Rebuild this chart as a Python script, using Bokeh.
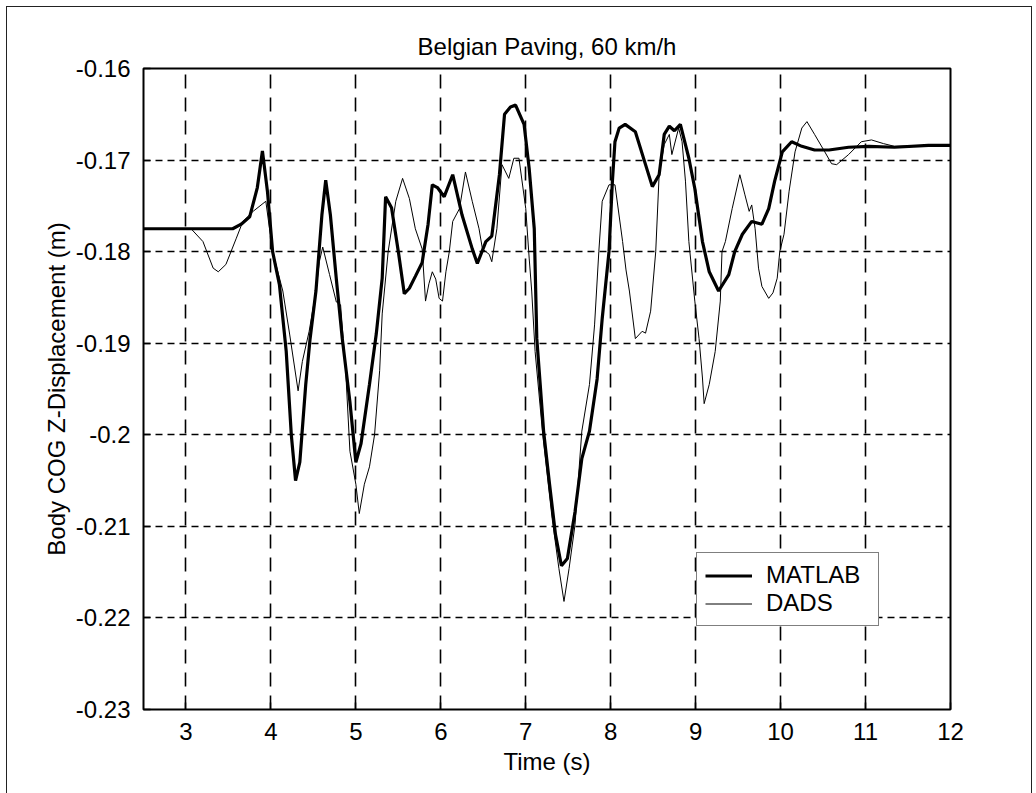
from bokeh.plotting import figure
from bokeh.models import FixedTicker, Legend, LegendItem, Range1d
from bokeh.embed import file_html
from bokeh.resources import INLINE

# Body centre-of-gravity vertical displacement, Belgian paving at 60 km/h
matlab_t = [2.5, 3.55, 3.65, 3.75, 3.84, 3.90, 3.96, 4.02, 4.10, 4.18, 4.24, 4.29, 4.34, 4.41,
            4.46, 4.53, 4.60, 4.645, 4.70, 4.77, 4.84, 4.93, 5.00, 5.06, 5.16, 5.24, 5.31, 5.35,
            5.42, 5.50, 5.57, 5.63, 5.70, 5.78, 5.85, 5.90, 5.96, 6.04, 6.14, 6.25, 6.37, 6.43,
            6.53, 6.60, 6.69, 6.75, 6.82, 6.88, 6.98, 7.04, 7.10, 7.13, 7.17, 7.21, 7.28, 7.35,
            7.42, 7.49, 7.58, 7.66, 7.75, 7.84, 7.90, 7.98, 8.02, 8.05, 8.10, 8.17, 8.29, 8.41,
            8.49, 8.57, 8.63, 8.69, 8.75, 8.82, 8.92, 8.99, 9.08, 9.16, 9.27, 9.39, 9.46, 9.55,
            9.66, 9.78, 9.86, 9.93, 10.02, 10.13, 10.25, 10.40, 10.57, 10.80, 11.04, 11.34,
            11.74, 12.0]
matlab_z = [-0.1775, -0.1775, -0.1770, -0.1762, -0.1730, -0.1690, -0.1735, -0.1800, -0.1836,
            -0.1909, -0.2000, -0.2050, -0.2030, -0.1945, -0.1896, -0.1843, -0.1760, -0.1722,
            -0.1760, -0.1830, -0.1895, -0.1964, -0.2030, -0.2010, -0.1945, -0.1890, -0.1829,
            -0.1740, -0.1752, -0.1800, -0.1846, -0.1840, -0.1827, -0.1812, -0.1770, -0.1727,
            -0.1730, -0.1740, -0.1716, -0.1760, -0.1797, -0.1813, -0.1789, -0.1783, -0.1716,
            -0.1650, -0.1642, -0.1640, -0.1661, -0.1709, -0.1775, -0.1895, -0.1945, -0.1996,
            -0.2054, -0.2109, -0.2143, -0.2135, -0.2084, -0.2026, -0.1996, -0.1939, -0.1873,
            -0.1800, -0.1723, -0.1680, -0.1665, -0.1661, -0.1669, -0.1705, -0.1729, -0.1716,
            -0.1672, -0.1663, -0.1668, -0.1661, -0.1698, -0.1731, -0.1789, -0.1822, -0.1843,
            -0.1825, -0.1800, -0.1781, -0.1767, -0.1770, -0.1753, -0.1723, -0.1691, -0.1680,
            -0.1685, -0.1689, -0.1689, -0.1686, -0.1685, -0.1686, -0.1684, -0.1684]

dads_t = [2.5, 3.06, 3.20, 3.32, 3.38, 3.47, 3.59, 3.67, 3.79, 3.94, 4.02, 4.14, 4.22, 4.32,
          4.37, 4.45, 4.53, 4.57, 4.61, 4.69, 4.77, 4.82, 4.88, 4.93, 5.00, 5.04, 5.10, 5.16,
          5.22, 5.28, 5.31, 5.38, 5.47, 5.55, 5.63, 5.70, 5.78, 5.82, 5.86, 5.90, 5.94, 5.98,
          6.02, 6.06, 6.10, 6.14, 6.22, 6.29, 6.37, 6.45, 6.49, 6.57, 6.60, 6.66, 6.72, 6.80,
          6.86, 6.92, 7.00, 7.04, 7.07, 7.11, 7.20, 7.31, 7.39, 7.45, 7.51, 7.58, 7.66, 7.75,
          7.81, 7.86, 7.90, 7.98, 8.05, 8.14, 8.18, 8.22, 8.29, 8.37, 8.41, 8.47, 8.53, 8.57,
          8.63, 8.69, 8.72, 8.80, 8.84, 8.88, 8.92, 8.99, 9.04, 9.08, 9.10, 9.16, 9.23, 9.29,
          9.31, 9.35, 9.43, 9.52, 9.58, 9.63, 9.66, 9.70, 9.74, 9.78, 9.86, 9.91, 9.96, 9.99,
          10.04, 10.10, 10.17, 10.25, 10.31, 10.40, 10.52, 10.60, 10.66, 10.80, 10.95, 11.07,
          11.21, 11.34, 11.74, 12.0]
dads_z = [-0.1775, -0.1775, -0.1789, -0.1818, -0.1822, -0.1814, -0.1786, -0.1767, -0.1756,
          -0.1745, -0.1800, -0.1843, -0.1890, -0.1952, -0.1920, -0.1887, -0.1843, -0.1811,
          -0.1795, -0.1825, -0.1855, -0.1858, -0.1930, -0.2018, -0.2054, -0.2086, -0.2054,
          -0.2035, -0.2000, -0.1930, -0.1868, -0.1800, -0.1745, -0.1720, -0.1742, -0.1775,
          -0.1797, -0.1854, -0.1835, -0.1822, -0.1830, -0.1851, -0.1854, -0.1822, -0.1800,
          -0.1767, -0.1753, -0.1713, -0.1745, -0.1775, -0.1797, -0.1803, -0.1811, -0.1775,
          -0.1705, -0.1720, -0.1698, -0.1698, -0.1753, -0.1807, -0.1843, -0.1909, -0.2000,
          -0.2091, -0.2146, -0.2182, -0.2146, -0.2098, -0.1996, -0.1945, -0.1880, -0.1800,
          -0.1745, -0.1727, -0.1727, -0.1789, -0.1820, -0.1843, -0.1895, -0.1887, -0.1889,
          -0.1865, -0.1800, -0.1716, -0.1683, -0.1672, -0.1694, -0.1665, -0.1680, -0.1723,
          -0.1789, -0.1854, -0.1895, -0.1938, -0.1966, -0.1945, -0.1909, -0.1854, -0.1800,
          -0.1789, -0.1753, -0.1716, -0.1738, -0.1756, -0.1749, -0.1775, -0.1818, -0.1838,
          -0.1851, -0.1845, -0.1829, -0.1800, -0.1781, -0.1734, -0.1691, -0.1665, -0.1658,
          -0.1672, -0.1691, -0.1704, -0.1705, -0.1694, -0.1680, -0.1678, -0.1682, -0.1685,
          -0.1684, -0.1684]

x_ticks = [3, 4, 5, 6, 7, 8, 9, 10, 11, 12]
y_ticks = [-0.23, -0.22, -0.21, -0.20, -0.19, -0.18, -0.17, -0.16]
y_tick_labels = ["-0.23", "-0.22", "-0.21", "-0.2", "-0.19", "-0.18", "-0.17", "-0.16"]

FONT = "Liberation Sans"
FS = "24px"

p = figure(width=1024, height=786, output_backend="svg", toolbar_location=None,
           x_range=Range1d(2.5, 12), y_range=Range1d(-0.23, -0.16),
           frame_width=807, frame_height=641,
           min_border_left=136, min_border_top=61, min_border_right=81, min_border_bottom=84,
           title="Belgian Paving, 60 km/h")
p.styles = {"border": "1px solid #222", "margin-left": "6px", "margin-top": "6px"}

p.title.align = "center"
p.title.text_font = FONT
p.title.text_font_size = FS
p.title.text_font_style = "normal"
p.title.text_color = "black"
p.title.standoff = 18

p.background_fill_color = "white"
p.border_fill_color = "white"
p.outline_line_color = "black"
p.outline_line_width = 2

for ax in (p.xaxis[0], p.yaxis[0]):
    ax.axis_line_color = None
    ax.major_tick_in = 7
    ax.major_tick_out = 0
    ax.minor_tick_line_color = None
    ax.major_tick_line_color = "black"
    ax.major_tick_line_width = 1.5
    ax.major_label_text_font = FONT
    ax.major_label_text_font_size = FS
    ax.major_label_text_color = "black"
    ax.axis_label_text_font = FONT
    ax.axis_label_text_font_size = FS
    ax.axis_label_text_font_style = "normal"
    ax.axis_label_text_color = "black"
    ax.major_label_standoff = 13

p.xaxis.ticker = FixedTicker(ticks=x_ticks)
p.yaxis.ticker = FixedTicker(ticks=y_ticks)
p.yaxis.major_label_overrides = dict(zip(y_ticks, y_tick_labels))
p.xaxis.axis_label = "Time (s)"
p.yaxis.axis_label = "Body COG Z-Displacement (m)"
p.xaxis.axis_label_standoff = 5
p.yaxis.axis_label_standoff = 3

p.xgrid.grid_line_color = "black"
p.xgrid.grid_line_width = 1.6
p.xgrid.grid_line_dash = "14 9"
p.ygrid.grid_line_color = "black"
p.ygrid.grid_line_width = 1.6
p.ygrid.grid_line_dash = "7 5"

r_dads = p.line(dads_t, dads_z, line_color="black", line_width=1)
r_matlab = p.line(matlab_t, matlab_z, line_color="black", line_width=3.2)

legend = Legend(items=[LegendItem(label="MATLAB", renderers=[r_matlab]),
                       LegendItem(label="DADS", renderers=[r_dads])],
                location=(553, 83))
legend.border_line_color = "black"
legend.border_line_width = 1.5
legend.background_fill_color = "white"
legend.background_fill_alpha = 1
legend.padding = 8
legend.spacing = 0
legend.margin = 0
legend.glyph_width = 47
legend.glyph_height = 27
legend.label_height = 27
legend.label_width = 104
legend.label_standoff = 14
legend.label_text_font = FONT
legend.label_text_font_size = FS
legend.label_text_color = "black"
p.add_layout(legend, "center")

open("out.html", "w").write(file_html(p, INLINE))
